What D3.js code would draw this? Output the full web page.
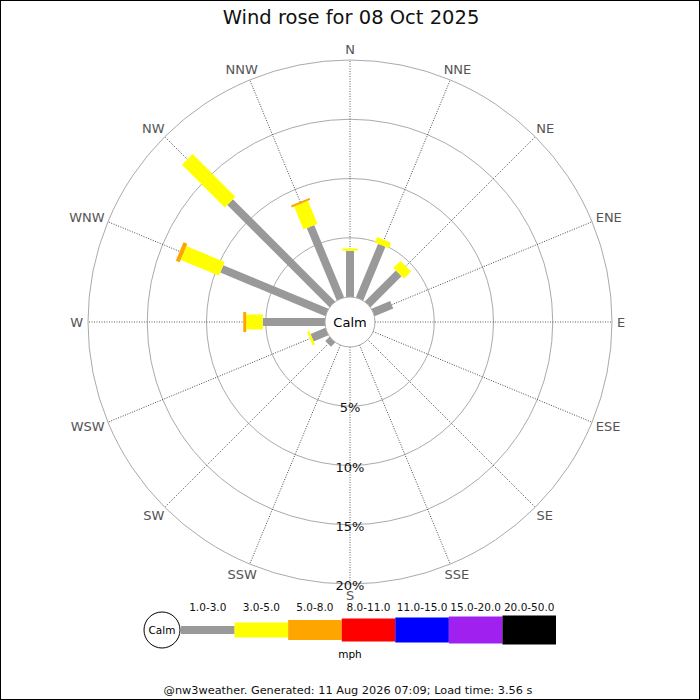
<!DOCTYPE html>
<html>
<head>
<meta charset="utf-8">
<script src="https://cdn.jsdelivr.net/npm/d3@7"></script>
<style>
  body { margin: 0; background: #fff; }
  text { font-family: "DejaVu Sans", sans-serif; }
</style>
</head>
<body>
<div id="chart"></div>
<script>
const directions = ['N','NNE','NE','ENE','E','ESE','SE','SSE','S','SSW','SW','WSW','W','WNW','NW','NNW'];
const speedClasses = ['1.0-3.0','3.0-5.0','5.0-8.0','8.0-11.0','11.0-15.0','15.0-20.0','20.0-50.0'];
const classColors = ['#999999','#ffff00','#ffa500','#ff0000','#0000ff','#a020f0','#000000'];
const rangeTicks = [5, 10, 15, 20];

// percent of time per direction, per speed class (mph)
const s1to3   = [3.9, 4.9, 3.7, 1.7, 0, 0, 0, 0, 0, 0, 0.5, 1.35, 5.25, 9.6, 12.2, 6.6];
const s3to5   = [0.2, 0.5, 0.85, 0, 0, 0, 0, 0, 0, 0, 0, 0.2, 1.4, 3.5, 5.1, 2.1];
const s5to8   = [0, 0, 0, 0, 0, 0, 0, 0, 0, 0, 0, 0, 0.25, 0.35, 0, 0.17];
const s8to11  = [0, 0, 0, 0, 0, 0, 0, 0, 0, 0, 0, 0, 0, 0, 0, 0];
const s11to15 = [0, 0, 0, 0, 0, 0, 0, 0, 0, 0, 0, 0, 0, 0, 0, 0];
const s15to20 = [0, 0, 0, 0, 0, 0, 0, 0, 0, 0, 0, 0, 0, 0, 0, 0];
const s20to50 = [0, 0, 0, 0, 0, 0, 0, 0, 0, 0, 0, 0, 0, 0, 0, 0];
const series = [s1to3, s3to5, s5to8, s8to11, s11to15, s15to20, s20to50];

const W = 700, H = 700;
const cx = 350, cy = 322, calmR = 25, outerR = 262;

const svg = d3.select('#chart').append('svg')
    .attr('width', W).attr('height', H);

svg.append('rect')
    .attr('x', 0.5).attr('y', 0.5)
    .attr('width', W - 1).attr('height', H - 1)
    .attr('fill', '#fff').attr('stroke', '#000');

svg.append('text')
    .attr('x', 351).attr('y', 24)
    .attr('text-anchor', 'middle')
    .style('font-size', '19.5px').attr('fill', '#111')
    .text('Wind rose for 08 Oct 2025');

const r = d3.scaleLinear().domain([0, 20]).range([calmR, outerR]);
const angle = d3.scalePoint().domain(directions).range([0, 360 - 22.5]);
const thickness = d3.scaleOrdinal().domain(speedClasses).range([8, 15, 20, 23, 25, 27, 29]);
const color = d3.scaleOrdinal().domain(speedClasses).range(classColors);

const g = svg.append('g').attr('transform', `translate(${cx},${cy})`);

// range circles
g.selectAll('circle.range')
    .data(rangeTicks)
    .join('circle')
    .attr('class', 'range')
    .attr('r', d => r(d))
    .attr('fill', 'none')
    .attr('stroke', '#aaa');

// direction lines
g.selectAll('line.dir')
    .data(directions)
    .join('line')
    .attr('class', 'dir')
    .attr('transform', d => `rotate(${angle(d)})`)
    .attr('x1', 0).attr('x2', 0)
    .attr('y1', -calmR).attr('y2', -outerR)
    .attr('stroke', '#333')
    .attr('stroke-width', 0.8)
    .attr('stroke-dasharray', '1,1.5');

// compass labels, pushed outside the outer ring
const dirLabels = g.selectAll('text.dirlab')
    .data(directions)
    .join('text')
    .attr('class', 'dirlab')
    .attr('text-anchor', 'middle')
    .attr('dominant-baseline', 'central')
    .style('font-size', '13px')
    .attr('fill', '#555')
    .text(d => d);
dirLabels.each(function(d) {
    const a = angle(d) * Math.PI / 180;
    const w = this.getComputedTextLength();
    const sx = Math.sin(a), sy = -Math.cos(a);
    const x = (outerR + 5) * sx + sx * w / 2;
    const y = (outerR + 5) * sy + sy * 6;
    d3.select(this).attr('x', x).attr('y', y);
});

// stacked bars
const stacked = directions.map((d, i) => {
    let acc = 0;
    return series.map((s, k) => {
        const seg = { dir: d, cls: speedClasses[k], y0: acc, y1: acc + s[i] };
        acc += s[i];
        return seg;
    }).filter(seg => seg.y1 > seg.y0);
});

const bars = g.selectAll('g.bar')
    .data(stacked)
    .join('g')
    .attr('class', 'bar')
    .attr('transform', (d, i) => `rotate(${angle(directions[i])})`);

bars.selectAll('rect')
    .data(d => d)
    .join('rect')
    .attr('x', d => -thickness(d.cls) / 2)
    .attr('width', d => thickness(d.cls))
    .attr('y', d => -r(d.y1))
    .attr('height', d => r(d.y1) - r(d.y0))
    .attr('fill', d => color(d.cls));

// calm circle
g.append('circle')
    .attr('r', calmR)
    .attr('fill', '#fff')
    .attr('stroke', '#aaa');
g.append('text')
    .attr('text-anchor', 'middle')
    .attr('dominant-baseline', 'central')
    .style('font-size', '13px')
    .text('Calm');

// range labels along south axis
g.selectAll('text.rangelab')
    .data(rangeTicks)
    .join('text')
    .attr('class', 'rangelab')
    .attr('x', 0)
    .attr('y', d => r(d) + 1.5)
    .attr('text-anchor', 'middle')
    .attr('dominant-baseline', 'central')
    .style('font-size', '13px')
    .attr('fill', '#111')
    .text(d => d + '%');

// legend
const legX = d3.scaleBand().domain(speedClasses).range([181, 556]);
const legY = 630;
const leg = svg.append('g');

leg.append('circle')
    .attr('cx', 162).attr('cy', legY).attr('r', 18)
    .attr('fill', '#fff').attr('stroke', '#000');
leg.append('text')
    .attr('x', 162).attr('y', legY)
    .attr('text-anchor', 'middle')
    .attr('dominant-baseline', 'central')
    .style('font-size', '10.5px')
    .text('Calm');

leg.selectAll('rect.legbar')
    .data(speedClasses)
    .join('rect')
    .attr('class', 'legbar')
    .attr('x', d => legX(d))
    .attr('width', legX.bandwidth())
    .attr('y', d => legY - thickness(d) / 2)
    .attr('height', d => thickness(d))
    .attr('fill', d => color(d));

leg.selectAll('text.leglab')
    .data(speedClasses)
    .join('text')
    .attr('class', 'leglab')
    .attr('x', d => legX(d) + legX.bandwidth() / 2)
    .attr('y', 611)
    .attr('text-anchor', 'middle')
    .style('font-size', '10.5px')
    .attr('fill', '#111')
    .text(d => d);

leg.append('text')
    .attr('x', 350).attr('y', 658)
    .attr('text-anchor', 'middle')
    .style('font-size', '10.5px')
    .text('mph');

svg.append('text')
    .attr('x', 348).attr('y', 694)
    .attr('text-anchor', 'middle')
    .style('font-size', '11.3px')
    .attr('fill', '#111')
    .text('@nw3weather. Generated: 11 Aug 2026 07:09; Load time: 3.56 s');
</script>
</body>
</html>
